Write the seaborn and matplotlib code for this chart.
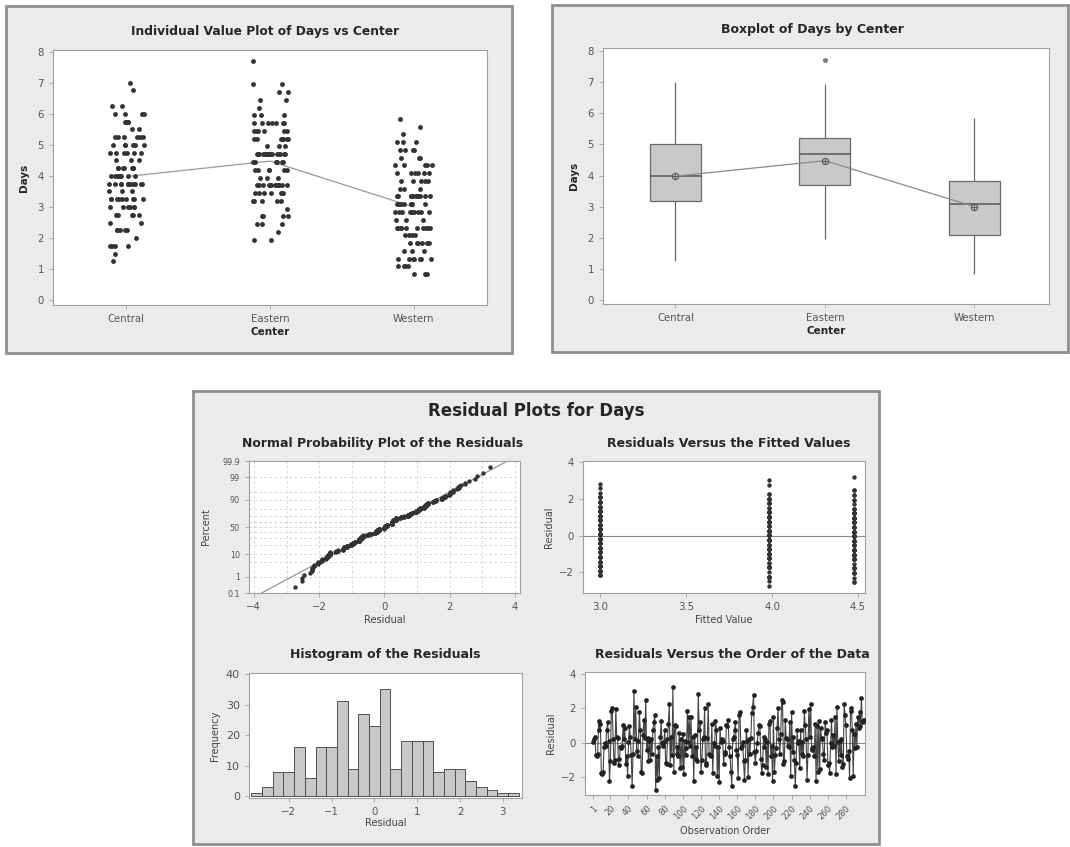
import numpy as np
import pandas as pd
import matplotlib
matplotlib.use("Agg")
import matplotlib.pyplot as plt
import seaborn as sns
from matplotlib.patches import Rectangle
from statistics import NormalDist

# Days recorded per service center, in observation order
central_days = [4.0, 3.25, 5.25, 2.25, 3.75, 4.75, 1.75, 6.0, 3.0, 4.25,
                3.75, 5.0, 2.75, 4.0, 3.25, 7.0, 3.5, 5.75, 2.25, 4.25,
                4.25, 3.0, 4.75, 1.25, 3.75, 5.25, 4.0, 2.75, 6.25, 3.25,
                5.0, 3.75, 2.5, 4.5, 3.25, 4.0, 5.5, 1.75, 3.75, 4.75,
                3.0, 6.0, 4.25, 3.25, 2.25, 5.25, 3.75, 4.0, 2.75, 5.0,
                3.75, 1.5, 4.75, 3.25, 5.75, 4.0, 3.0, 2.0, 4.25, 6.75,
                3.5, 5.0, 2.25, 3.75, 4.0, 5.25, 1.75, 3.25, 6.0, 4.5,
                2.75, 4.25, 3.75, 5.75, 3.0, 4.75, 2.5, 4.0, 5.0, 3.25,
                6.25, 3.75, 1.75, 5.25, 4.25, 3.0, 4.75, 2.25, 3.75, 5.5,
                4.0, 3.25, 2.75, 5.0, 3.5, 6.0, 4.5, 3.75, 5.75, 5.25]
eastern_days = [4.7, 3.7, 5.2, 2.7, 4.45, 5.7, 3.45, 4.7, 6.45, 3.2,
                4.2, 4.7, 3.7, 5.45, 1.95, 4.7, 3.7, 5.2, 4.95, 6.95,
                3.45, 4.7, 5.7, 3.7, 2.45, 4.45, 5.2, 4.7, 3.2, 7.7,
                5.45, 3.7, 4.7, 2.7, 4.2, 5.95, 3.7, 4.95, 3.45, 5.7,
                4.7, 3.2, 6.7, 3.7, 4.45, 5.2, 2.2, 4.7, 3.95, 5.45,
                3.7, 4.7, 5.7, 2.45, 4.2, 3.45, 5.2, 4.7, 6.2, 3.95,
                4.45, 5.45, 3.2, 4.7, 2.7, 3.7, 5.95, 4.2, 4.7, 6.95,
                3.45, 4.7, 5.7, 3.95, 1.95, 4.45, 5.2, 3.7, 4.7, 6.45,
                4.2, 3.7, 5.45, 2.95, 4.7, 5.7, 3.2, 4.45, 4.95, 2.7,
                3.45, 4.7, 6.7, 3.7, 2.45, 5.2, 4.2, 5.95, 5.45, 5.7]
western_days = [3.34, 2.34, 4.09, 1.34, 2.84, 3.09, 4.84, 1.84, 3.34, 2.09,
                2.84, 3.84, 1.09, 3.34, 2.34, 5.09, 3.09, 1.34, 4.34, 2.59,
                3.09, 2.34, 4.59, 0.84, 3.34, 2.84, 1.84, 4.09, 3.34, 1.34,
                2.34, 3.59, 1.59, 3.09, 4.84, 2.84, 3.34, 2.09, 5.84, 1.34,
                3.34, 1.84, 2.34, 4.09, 2.84, 1.09, 3.84, 3.09, 2.34, 4.34,
                1.34, 3.34, 2.59, 4.59, 2.84, 0.84, 3.09, 2.34, 5.09, 1.84,
                3.59, 2.09, 3.34, 1.59, 4.09, 2.84, 1.34, 3.84, 2.34, 5.34,
                4.34, 2.84, 1.09, 3.34, 1.84, 3.09, 2.34, 4.84, 0.84, 3.34,
                2.59, 4.09, 1.34, 3.84, 2.34, 3.59, 1.84, 4.34, 2.84, 5.09,
                3.09, 1.59, 4.59, 2.09, 4.84, 1.09, 4.09, 3.84, 5.59, 4.34]
center_names = ["Central", "Eastern", "Western"]

day_ticks = [0, 1, 2, 3, 4, 5, 6, 7, 8]
prob_ticks = [0.1, 1, 10, 50, 90, 99, 99.9]
prob_grid = [0.1, 1, 5, 10, 20, 30, 40, 50, 60, 70, 80, 90, 95, 99, 99.9]
fitted_ticks = [3.0, 3.5, 4.0, 4.5]
order_ticks = [1, 20, 40, 60, 80, 100, 120, 140, 160, 180, 200, 220, 240, 260, 280]

# long table, observations interleaved across the three centers
days_tbl = pd.DataFrame({"Central": central_days, "Eastern": eastern_days, "Western": western_days})
df = days_tbl.stack().reset_index()
df.columns = ["row", "center", "days"]
df["obs"] = np.arange(1, len(df) + 1)
df["fitted"] = df.groupby("center")["days"].transform("mean")
df["resid"] = df["days"] - df["fitted"]
means = df.groupby("center")["days"].mean().reindex(center_names)

sns.set_theme(style="white")
plt.rcParams["font.family"] = ["DejaVu Sans"]

W, H = 1070, 847
fig = plt.figure(figsize=(W / 100, H / 100), dpi=100)
fig.patch.set_facecolor("white")


def px_axes(x0, y0, x1, y1):
    return fig.add_axes([x0 / W, 1 - y1 / H, (x1 - x0) / W, (y1 - y0) / H])


def panel(x0, y0, x1, y1):
    fig.patches.append(Rectangle((x0 / W, 1 - y1 / H), (x1 - x0) / W, (y1 - y0) / H,
                                 transform=fig.transFigure, facecolor="#ebebeb",
                                 edgecolor="#8f8f8f", linewidth=2, zorder=-5))


def ftext(x, y, s, **kw):
    fig.text(x / W, 1 - y / H, s, ha="center", va="center", **kw)


def style(ax, size=7.3):
    ax.set_facecolor("white")
    for sp in ax.spines.values():
        sp.set_color("#a0a0a0")
        sp.set_linewidth(0.8)
    ax.tick_params(axis="both", colors="#a0a0a0", labelcolor="#555555",
                   labelsize=size, length=3, width=0.6, bottom=True, left=True)


panel(6, 6, 512, 353)
panel(552, 5, 1068, 352)
panel(193, 391, 879, 844)

# ---- individual value plot
ax1 = px_axes(53, 50, 487, 305)
np.random.seed(3)
sns.stripplot(data=df, x="center", y="days", order=center_names, jitter=0.13,
              color="#333333", size=3.5, linewidth=0, ax=ax1)
ax1.plot(range(3), means.values, color="#9a9a9a", lw=0.9, zorder=1)
ax1.set_xlim(-0.51, 2.51)
ax1.set_ylim(-0.15, 8.05)
ax1.set_yticks(day_ticks)
style(ax1)
ax1.set_xlabel("Center", fontsize=7.5, fontweight="bold", labelpad=2)
ax1.set_ylabel("Days", fontsize=7.5, fontweight="bold", labelpad=6)
ftext(265, 31, "Individual Value Plot of Days vs Center", fontsize=8.8, fontweight="bold")

# ---- boxplot
ax2 = px_axes(603, 48, 1049, 304)
sns.boxplot(data=df, x="center", y="days", order=center_names, width=0.34,
            color="#c9c9c9", saturation=1, linecolor="#6a6a6a", linewidth=0.9,
            showcaps=False, fliersize=3.5,
            flierprops={"marker": "*", "markeredgecolor": "#777777"},
            medianprops={"color": "#555555", "linewidth": 1.1}, ax=ax2)
ax2.plot(range(3), means.values, color="#8a8a8a", lw=0.9, marker="o", ms=4.5,
         mfc="#bdbdbd", mec="#555555", mew=0.8, zorder=5)
ax2.plot(range(3), means.values, ls="none", marker="+", ms=4.5, mec="#555555", mew=0.6, zorder=6)
ax2.set_xlim(-0.485, 2.5)
ax2.set_ylim(-0.13, 8.1)
ax2.set_yticks(day_ticks)
style(ax2)
ax2.set_xlabel("Center", fontsize=7.5, fontweight="bold", labelpad=2)
ax2.set_ylabel("Days", fontsize=7.5, fontweight="bold", labelpad=6)
ftext(812, 29, "Boxplot of Days by Center", fontsize=9, fontweight="bold")

# ---- residual plots
ftext(536, 411, "Residual Plots for Days", fontsize=12, fontweight="bold")

nd = NormalDist()
res_sorted = np.sort(df["resid"].values)
n = len(res_sorted)
z = np.array([nd.inv_cdf((i - 0.3) / (n + 0.4)) for i in range(1, n + 1)])
mu, sd = res_sorted.mean(), res_sorted.std(ddof=1)

ax3 = px_axes(249, 461, 520, 593)
for p in prob_grid:
    ax3.axhline(nd.inv_cdf(p / 100), color="#cfcfcf", lw=0.6, ls=(0, (3, 3)), zorder=0)
for xv in range(-4, 5):
    ax3.axvline(xv, color="#cfcfcf", lw=0.6, ls=(0, (3, 3)), zorder=0)
zl = np.array([-3.4, 3.4])
ax3.plot(mu + sd * zl, zl, color="#8a8a8a", lw=0.8, zorder=2)
sns.scatterplot(x=res_sorted, y=z, color="#333333", s=10, linewidth=0, ax=ax3, zorder=3)
ax3.set_xlim(-4.15, 4.15)
ax3.set_ylim(nd.inv_cdf(0.001), nd.inv_cdf(0.999))
ax3.set_xticks([-4, -2, 0, 2, 4])
ax3.set_yticks([nd.inv_cdf(p / 100) for p in prob_ticks])
ax3.set_yticklabels([f"{p:g}" for p in prob_ticks])
style(ax3)
ax3.tick_params(axis="y", labelsize=5.8)
ax3.set_xlabel("Residual", fontsize=7, color="#444444", labelpad=2)
ax3.set_ylabel("Percent", fontsize=7, color="#444444", labelpad=8)
ftext(383, 443, "Normal Probability Plot of the Residuals", fontsize=9, fontweight="bold")

ax4 = px_axes(583, 461, 865, 593)
ax4.axhline(0, color="#8a8a8a", lw=0.8, zorder=1)
sns.scatterplot(data=df, x="fitted", y="resid", color="#333333", s=10, linewidth=0, ax=ax4, zorder=3)
ax4.set_xlim(2.9, 4.54)
ax4.set_ylim(-3.12, 4.07)
ax4.set_xticks(fitted_ticks)
ax4.set_xticklabels([f"{t:.1f}" for t in fitted_ticks])
ax4.set_yticks([-2, 0, 2, 4])
style(ax4)
ax4.set_xlabel("Fitted Value", fontsize=7, color="#444444", labelpad=2)
ax4.set_ylabel("Residual", fontsize=7, color="#444444", labelpad=4)
ftext(729, 443, "Residuals Versus the Fitted Values", fontsize=9, fontweight="bold")

ax5 = px_axes(249, 673, 522, 798)
sns.histplot(x=df["resid"], bins=np.arange(-2.875, 3.5, 0.25), color="#c8c8c8",
             edgecolor="#505050", linewidth=0.7, alpha=1, ax=ax5)
ax5.set_xlim(-2.93, 3.45)
ax5.set_ylim(-0.5, 40.3)
ax5.set_yticks([0, 10, 20, 30, 40])
ax5.set_xticks([-2, -1, 0, 1, 2, 3])
style(ax5)
ax5.tick_params(axis="y", labelsize=8)
ax5.set_xlabel("Residual", fontsize=7, color="#444444", labelpad=1)
ax5.set_ylabel("Frequency", fontsize=7, color="#444444", labelpad=4)
ftext(385, 654, "Histogram of the Residuals", fontsize=9, fontweight="bold")

ax6 = px_axes(585, 672, 865, 795)
ax6.axhline(0, color="#8a8a8a", lw=0.8, zorder=1)
sns.lineplot(data=df, x="obs", y="resid", color="#444444", lw=0.8, marker="o",
             markersize=3.4, markeredgewidth=0, markerfacecolor="#222222", ax=ax6, zorder=3)
ax6.set_xlim(-8, 301)
ax6.set_ylim(-3.02, 4.1)
ax6.set_xticks(order_ticks)
ax6.set_xticklabels([str(t) for t in order_ticks], rotation=45, ha="right",
                    rotation_mode="anchor")
ax6.set_yticks([-2, 0, 2, 4])
style(ax6)
ax6.tick_params(axis="x", labelsize=6)
ax6.set_xlabel("Observation Order", fontsize=7, color="#444444", labelpad=3)
ax6.set_ylabel("Residual", fontsize=7, color="#444444", labelpad=4)
ftext(732, 654, "Residuals Versus the Order of the Data", fontsize=9, fontweight="bold")

fig.savefig("out.png", dpi=100, facecolor="white")
